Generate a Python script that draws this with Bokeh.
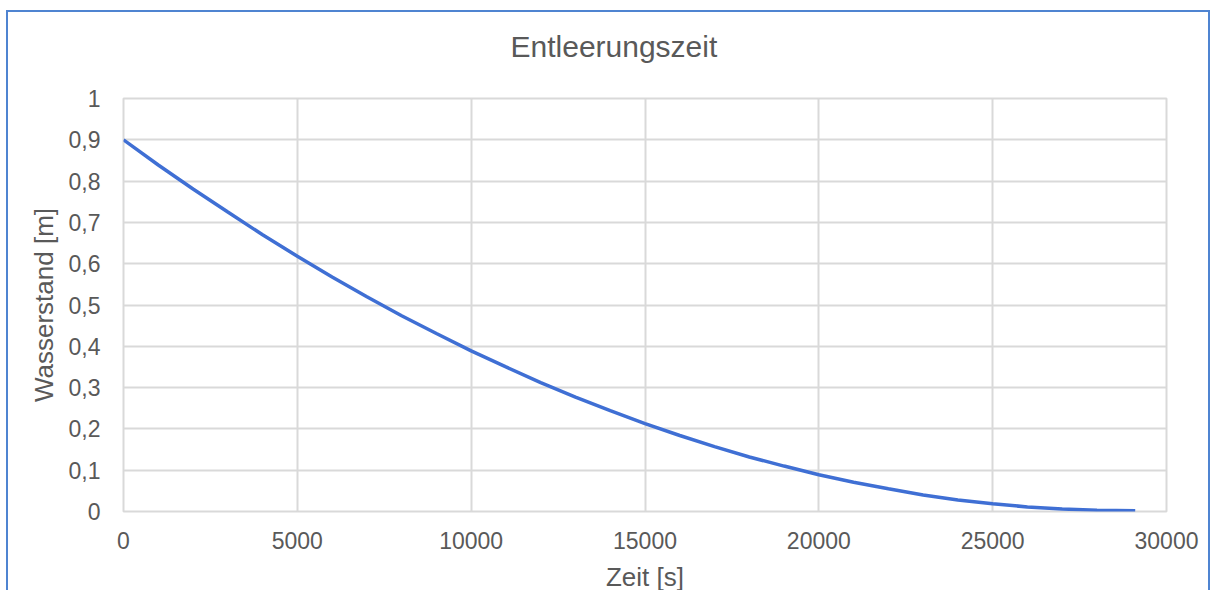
from bokeh.plotting import figure
from bokeh.models import FixedTicker, CustomJSTickFormatter, Range1d, Title
from bokeh.embed import file_html
from bokeh.resources import INLINE

# Data (time in s, water level in m)
zeit = [0, 1000, 2000, 3000, 4000, 5000, 6000, 7000, 8000, 9000, 10000,
        11000, 12000, 13000, 14000, 15000, 16000, 17000, 18000, 19000, 20000,
        21000, 22000, 23000, 24000, 25000, 26000, 27000, 28000, 29100]
wasserstand = [0.900, 0.839, 0.781, 0.725, 0.670, 0.618, 0.568, 0.520, 0.474, 0.431, 0.389,
               0.350, 0.312, 0.277, 0.244, 0.213, 0.184, 0.157, 0.132, 0.110, 0.089,
               0.071, 0.055, 0.040, 0.028, 0.019, 0.011, 0.006, 0.003, 0.002]

x_ticks = [0, 5000, 10000, 15000, 20000, 25000, 30000]
y_ticks = [0, 0.1, 0.2, 0.3, 0.4, 0.5, 0.6, 0.7, 0.8, 0.9, 1.0]

title_text = "Entleerungszeit"
x_label = "Zeit [s]"
y_label = "Wasserstand [m]"

FONT = "Liberation Sans"
TEXT_COLOR = "#595959"
GRID_COLOR = "#d9d9d9"
LINE_COLOR = "#3f6fd4"
FRAME_COLOR = "#4f84d1"

p = figure(width=1200, height=594, output_backend="svg", toolbar_location=None,
           x_range=Range1d(0, 30000), y_range=Range1d(0, 1),
           title=title_text)
p.margin = (12, 0, 0, 8)
p.styles = {"outline": "2px solid " + FRAME_COLOR, "outline-offset": "0px"}
p.min_border_left = 115
p.min_border_right = 42
p.min_border_top = 86
p.min_border_bottom = 95
p.outline_line_color = GRID_COLOR
p.outline_line_width = 2
p.background_fill_color = "white"
p.border_fill_color = "white"

p.title.align = "left"
p.title.offset = 387
p.title.standoff = 0
p.title.text_font = FONT
p.title.text_font_size = "30px"
p.title.text_font_style = "normal"
p.title.text_color = TEXT_COLOR

# empty spacer between the title and the plot frame
p.add_layout(Title(text=" ", text_font_size="10px", standoff=23), "above")

p.line(zeit, wasserstand, line_color=LINE_COLOR, line_width=3.5)

for g in (p.xgrid, p.ygrid):
    g.grid_line_color = GRID_COLOR
    g.grid_line_width = 2
p.xgrid.ticker = FixedTicker(ticks=x_ticks)
p.ygrid.ticker = FixedTicker(ticks=y_ticks)

fmt = CustomJSTickFormatter(code="return (Math.round(tick*10)/10).toString().replace('.', ',');")

for ax in (p.xaxis[0], p.yaxis[0]):
    ax.axis_line_color = None
    ax.major_tick_line_color = None
    ax.minor_tick_line_color = None
    ax.major_tick_out = 0
    ax.major_tick_in = 0
    ax.major_label_text_font = FONT
    ax.major_label_text_font_size = "23px"
    ax.major_label_text_color = TEXT_COLOR
    ax.axis_label_text_font = FONT
    ax.axis_label_text_font_size = "26px"
    ax.axis_label_text_font_style = "normal"
    ax.axis_label_text_color = TEXT_COLOR

p.xaxis[0].ticker = FixedTicker(ticks=x_ticks)
p.yaxis[0].ticker = FixedTicker(ticks=y_ticks)
p.yaxis[0].formatter = fmt
p.xaxis[0].axis_label = x_label
p.yaxis[0].axis_label = y_label
p.xaxis[0].major_label_standoff = 20
p.yaxis[0].major_label_standoff = 23
p.xaxis[0].axis_label_standoff = 10
p.yaxis[0].axis_label_standoff = 7

open("out.html", "w").write(file_html(p, INLINE))
